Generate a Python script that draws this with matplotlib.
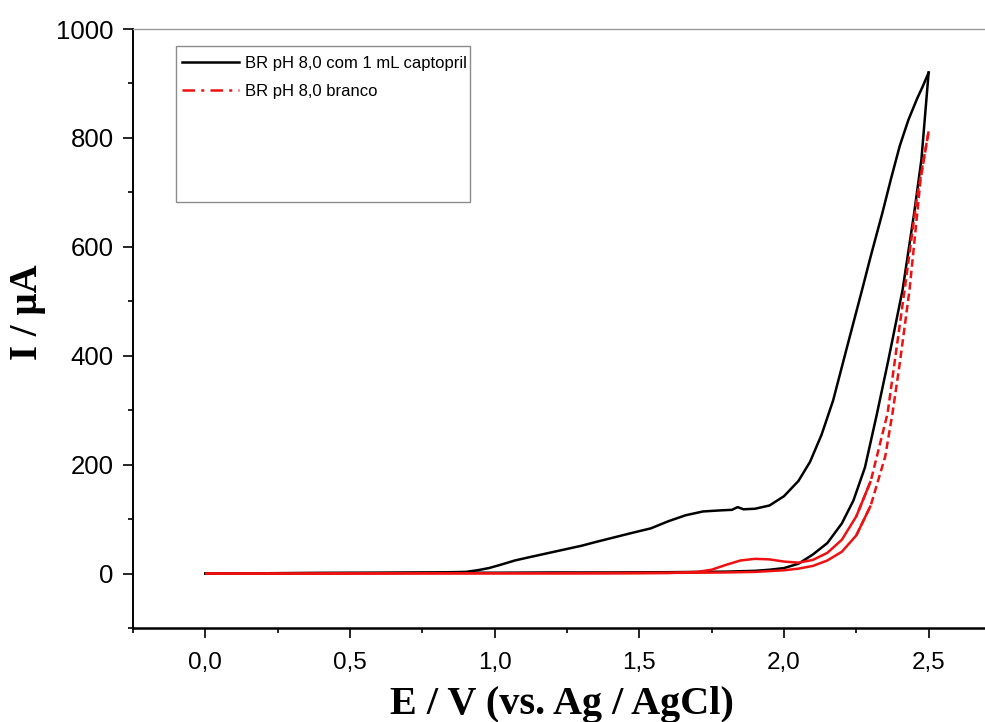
import numpy as np
import matplotlib.pyplot as plt
from matplotlib import font_manager
from matplotlib.patches import Rectangle
from matplotlib.lines import Line2D
from matplotlib.ticker import MultipleLocator, FuncFormatter

# captopril 1 mL in BR buffer pH 8.0: forward (0 -> 2.5 V) and reverse sweep
cap_fwd_E = [0.00, 0.20, 0.40, 0.60, 0.80, 1.00, 1.20, 1.40, 1.60, 1.70, 1.80, 1.90,
             1.95, 2.00, 2.05, 2.10, 2.15, 2.20, 2.24, 2.28, 2.32, 2.36, 2.41, 2.45,
             2.475, 2.50]
cap_fwd_I = [0, 0.5, 1, 1, 1.5, 1.5, 2, 2, 2.5, 3, 3.5, 5,
             7, 10, 18, 35, 56, 92, 134, 195, 290, 390, 521, 662,
             760, 920]

cap_rev_E = [2.50, 2.48, 2.46, 2.43, 2.40, 2.37, 2.34, 2.30, 2.27, 2.22, 2.17, 2.13,
             2.09, 2.05, 2.00, 1.95, 1.90, 1.86, 1.84, 1.82, 1.78, 1.72, 1.66, 1.60,
             1.54, 1.47, 1.41, 1.35, 1.30, 1.24, 1.18, 1.12, 1.07, 1.02, 0.98, 0.94,
             0.90, 0.80, 0.60, 0.40, 0.20, 0.00]
cap_rev_I = [920, 895, 872, 833, 785, 725, 662, 583, 521, 420, 318, 255,
             205, 170, 142, 125, 119, 118, 122, 117, 116, 114, 107, 96,
             83, 74, 66, 58, 51, 44, 37, 30, 24, 16, 10, 6,
             3, 2, 1.5, 1, 0.5, 0]

# blank BR buffer pH 8.0
blank_fwd_E = [0.00, 0.30, 0.60, 0.90, 1.20, 1.50, 1.70, 1.80, 1.90, 2.00, 2.05, 2.10,
               2.15, 2.20, 2.25, 2.30, 2.35, 2.375, 2.40, 2.434, 2.45, 2.472, 2.50]
blank_fwd_I = [0, 0, 0.5, 0.5, 0.5, 1, 1.5, 2, 3, 6, 9, 14,
               24, 40, 70, 125, 215, 294, 385, 521, 605, 723, 812]

blank_rev_E = [2.50, 2.46, 2.417, 2.358, 2.30, 2.25, 2.20, 2.15, 2.10, 2.05, 2.00, 1.95,
               1.90, 1.85, 1.80, 1.75, 1.70, 1.60, 1.40, 1.00, 0.60, 0.20, 0.00]
blank_rev_I = [812, 692, 521, 294, 170, 105, 62, 38, 25, 20, 22, 26,
               27, 24, 16, 7, 3, 1, 0.5, 0.5, 0, 0, 0]

x_ticks = [0.0, 0.5, 1.0, 1.5, 2.0, 2.5]
y_ticks = [0, 200, 400, 600, 800, 1000]
labels = ["BR pH 8,0 com 1 mL captopril", "BR pH 8,0 branco"]

BLACK = "#000000"
RED = "#ee1111"
LW = 1.8


def draw_blank(ax, E, I, thr=110):
    # low currents drawn solid, the steep part dashed
    E = np.asarray(E)
    I = np.asarray(I)
    low = I <= thr
    near_low = np.convolve(low.astype(int), [1, 1, 1], mode="same") > 0
    near_high = np.convolve((~low).astype(int), [1, 1, 1], mode="same") > 0
    ax.plot(np.where(near_low, E, np.nan), np.where(near_low, I, np.nan),
            color=RED, lw=LW, solid_capstyle="butt")
    ax.plot(np.where(near_high, E, np.nan), np.where(near_high, I, np.nan),
            color=RED, lw=LW, dashes=(3.0, 1.6))


installed = {f.name for f in font_manager.fontManager.ttflist}
if "Liberation Sans Narrow" in installed:
    legend_font = dict(family="Liberation Sans Narrow", size=14)
else:
    legend_font = dict(family="Liberation Sans", size=12)

plt.rcParams["font.family"] = ["Liberation Sans", "DejaVu Sans"]

fig = plt.figure(figsize=(9.85, 7.22), dpi=100)
ax = fig.add_axes([0.135, 0.1302, 0.8812, 0.8296])

ax.plot(cap_fwd_E, cap_fwd_I, color=BLACK, lw=LW)
ax.plot(cap_rev_E, cap_rev_I, color=BLACK, lw=LW)
draw_blank(ax, blank_fwd_E, blank_fwd_I)
draw_blank(ax, blank_rev_E, blank_rev_I)

ax.set_xlim(-0.25, 2.75)
ax.set_ylim(-100, 1000)
ax.set_xticks(x_ticks)
ax.set_yticks(y_ticks)
ax.xaxis.set_minor_locator(MultipleLocator(0.25))
ax.yaxis.set_minor_locator(MultipleLocator(100))
ax.xaxis.set_major_formatter(FuncFormatter(lambda v, p: f"{v:.1f}".replace(".", ",")))
ax.yaxis.set_major_formatter(FuncFormatter(lambda v, p: f"{v:.0f}"))

ax.tick_params(which="major", direction="out", length=7, width=1.2)
ax.tick_params(which="minor", direction="out", length=3.5, width=1.2)
ax.tick_params(axis="x", pad=10, labelsize=17.5)
ax.tick_params(axis="y", pad=7, labelsize=18.5)

ax.spines["left"].set_linewidth(1.4)
ax.spines["bottom"].set_linewidth(1.8)
ax.spines["top"].set_color("#9a9a9a")
ax.spines["top"].set_linewidth(1.0)
ax.spines["right"].set_visible(False)

ax.set_xlabel("E / V (vs. Ag / AgCl)", family="Liberation Serif", weight="bold",
              fontsize=29, va="center")
ax.xaxis.set_label_coords(0.494, -0.127)
ax.set_ylabel("I / \u00b5A", family="Liberation Serif", weight="bold",
              fontsize=28, va="center")
ax.yaxis.set_label_coords(-0.122, 0.528)

# legend frame drawn separately (it is larger than its two entries)
ax.add_patch(Rectangle((0.0495, 0.711), 0.3385, 0.2606, transform=ax.transAxes,
                       facecolor="white", edgecolor="#8c8c8c", lw=1.0, zorder=4))
handles = [Line2D([], [], color=BLACK, lw=LW),
           Line2D([], [], color=RED, lw=LW, linestyle=(0, (5, 2.5, 1.2, 2.5)))]
ax.legend(handles, labels, loc="upper left", bbox_to_anchor=(0.0565, 0.955),
          frameon=False, prop=legend_font, handlelength=3.4, handletextpad=0.4,
          labelspacing=0.8, borderpad=0, borderaxespad=0).set_zorder(5)

fig.savefig("out.png", dpi=100)
